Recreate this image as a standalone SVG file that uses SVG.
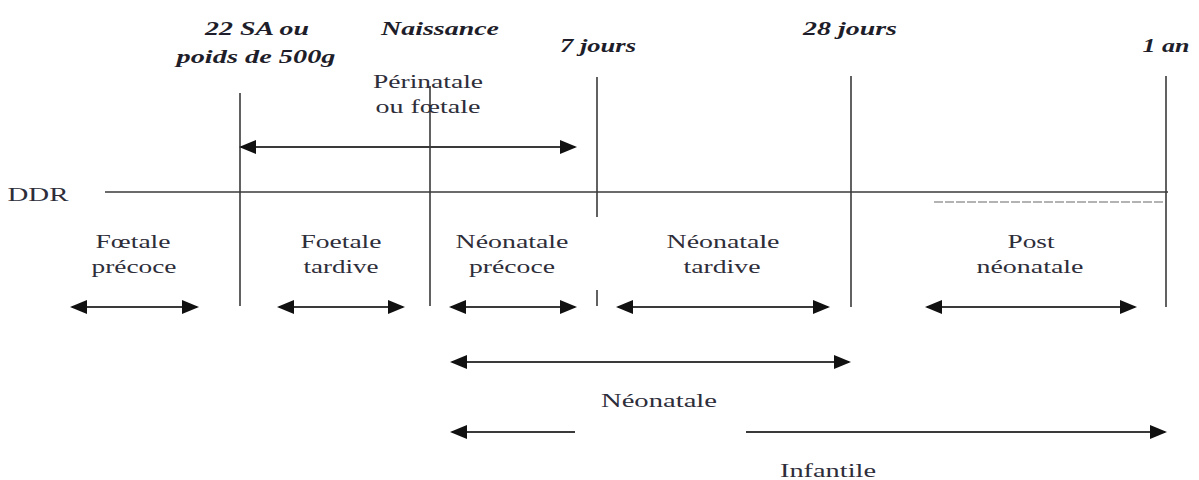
<svg xmlns="http://www.w3.org/2000/svg" width="1199" height="480" viewBox="0 0 1199 480">
<style>
.bg{fill:#ffffff}
.ln{stroke:#3a3a3a;stroke-width:1.6;fill:none}
.ar{stroke:#3a3a3a;stroke-width:2;fill:none;marker-end:url(#ah);marker-start:url(#ah)}
.are{stroke:#3a3a3a;stroke-width:2;fill:none;marker-end:url(#ah)}
.ars{stroke:#3a3a3a;stroke-width:2;fill:none;marker-start:url(#ah)}
.dash{stroke:#9a9a9a;stroke-width:1.5;stroke-dasharray:9 2;fill:none}
.t{font-family:"Liberation Serif","Times New Roman",serif;font-size:19px;fill:#2e2e3a;text-anchor:middle}
.tb{font-family:"Liberation Serif","Times New Roman",serif;font-size:19px;font-weight:bold;font-style:italic;fill:#1e1e2a;text-anchor:middle}
</style>
<defs>
<marker id="ah" markerWidth="17" markerHeight="14" refX="15" refY="7" orient="auto-start-reverse" markerUnits="userSpaceOnUse">
<path d="M0,0 L17,7 L0,14 Z" fill="#111"/>
</marker>
</defs>
<rect class="bg" x="0" y="0" width="1199" height="480"/>

<g id="axis">
<line class="ln" x1="105" y1="192" x2="1168" y2="192"/>
<line class="dash" x1="934" y1="202" x2="1165" y2="202"/>
<text class="t" x="38" y="201" textLength="61" lengthAdjust="spacingAndGlyphs">DDR</text>
</g>

<g id="marker-22sa">
<line class="ln" x1="240" y1="93" x2="240" y2="306"/>
<text class="tb" x="257" y="35" textLength="104" lengthAdjust="spacingAndGlyphs">22 SA ou</text>
<text class="tb" x="256" y="63" textLength="159" lengthAdjust="spacingAndGlyphs">poids de 500g</text>
</g>

<g id="marker-naissance">
<line class="ln" x1="430" y1="86" x2="430" y2="306"/>
<text class="tb" x="440" y="35" textLength="118" lengthAdjust="spacingAndGlyphs">Naissance</text>
</g>

<g id="marker-7jours">
<line class="ln" x1="597" y1="77" x2="597" y2="217"/>
<line class="ln" x1="597" y1="290" x2="597" y2="306"/>
<text class="tb" x="598" y="52" textLength="76" lengthAdjust="spacingAndGlyphs">7 jours</text>
</g>

<g id="marker-28jours">
<line class="ln" x1="851" y1="76" x2="851" y2="307"/>
<text class="tb" x="850" y="35" textLength="94" lengthAdjust="spacingAndGlyphs">28 jours</text>
</g>

<g id="marker-1an">
<line class="ln" x1="1166" y1="76" x2="1166" y2="307"/>
<text class="tb" x="1166" y="52" textLength="47" lengthAdjust="spacingAndGlyphs">1 an</text>
</g>

<g id="perinatale">
<text class="t" x="428" y="88" textLength="110" lengthAdjust="spacingAndGlyphs">Périnatale</text>
<text class="t" x="428" y="113" textLength="105" lengthAdjust="spacingAndGlyphs">ou fœtale</text>
</g>

<g id="foetale-precoce">
<text class="t" x="133" y="248" textLength="75" lengthAdjust="spacingAndGlyphs">Fœtale</text>
<text class="t" x="134" y="273" textLength="85" lengthAdjust="spacingAndGlyphs">précoce</text>
</g>

<g id="foetale-tardive">
<text class="t" x="341" y="248" textLength="81" lengthAdjust="spacingAndGlyphs">Foetale</text>
<text class="t" x="341" y="273" textLength="75" lengthAdjust="spacingAndGlyphs">tardive</text>
</g>

<g id="neonatale-precoce">
<text class="t" x="512" y="248" textLength="113" lengthAdjust="spacingAndGlyphs">Néonatale</text>
<text class="t" x="512" y="273" textLength="86" lengthAdjust="spacingAndGlyphs">précoce</text>
</g>

<g id="neonatale-tardive">
<text class="t" x="723" y="248" textLength="113" lengthAdjust="spacingAndGlyphs">Néonatale</text>
<text class="t" x="722" y="273" textLength="77" lengthAdjust="spacingAndGlyphs">tardive</text>
</g>

<g id="post-neonatale">
<text class="t" x="1031" y="248" textLength="47" lengthAdjust="spacingAndGlyphs">Post</text>
<text class="t" x="1030" y="273" textLength="107" lengthAdjust="spacingAndGlyphs">néonatale</text>
</g>

<g id="neonatale">
<text class="t" x="659" y="407" textLength="116" lengthAdjust="spacingAndGlyphs">Néonatale</text>
</g>

<g id="infantile">
<text class="t" x="828" y="477" textLength="96" lengthAdjust="spacingAndGlyphs">Infantile</text>
</g>

<g id="connectors">
<line class="ar" x1="241" y1="147" x2="575" y2="147"/>
<line class="ar" x1="72" y1="307" x2="197" y2="307"/>
<line class="ar" x1="279" y1="307" x2="403" y2="307"/>
<line class="ar" x1="451" y1="307" x2="575" y2="307"/>
<line class="ar" x1="618" y1="307" x2="828" y2="307"/>
<line class="ar" x1="927" y1="307" x2="1135" y2="307"/>
<line class="ar" x1="452" y1="362" x2="849" y2="362"/>
<line class="ars" x1="452" y1="432" x2="575" y2="432"/>
<line class="are" x1="746" y1="432" x2="1165" y2="432"/>
</g>
</svg>
